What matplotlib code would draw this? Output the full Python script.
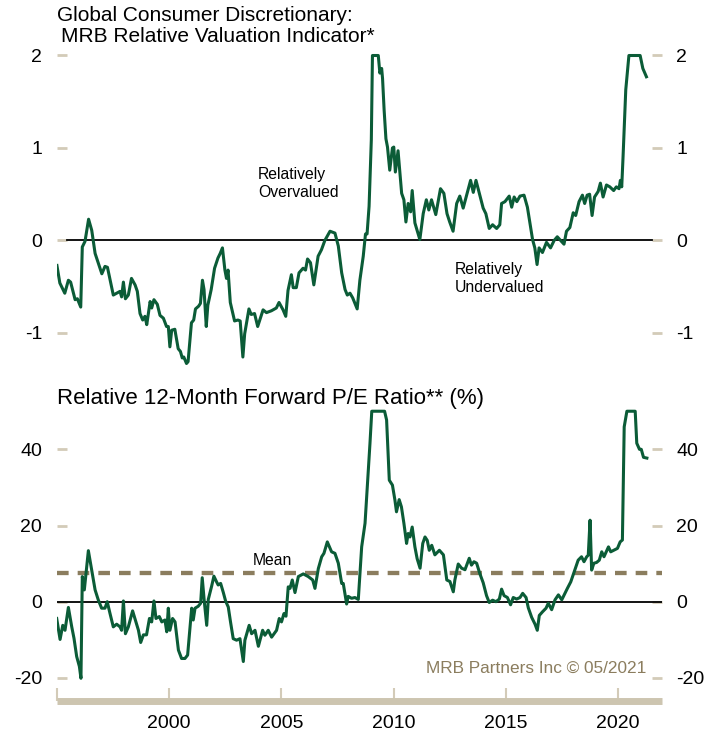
import matplotlib
matplotlib.use("Agg")
import matplotlib.pyplot as plt

plt.rcParams['font.family'] = ['Liberation Sans', 'DejaVu Sans']
plt.rcParams['axes.unicode_minus'] = False

# ---------------- data ----------------
top_years = [
    1995.01, 1995.14, 1995.36, 1995.52, 1995.62, 1995.82, 1995.92, 1996.07, 1996.14, 1996.26,
    1996.42, 1996.56, 1996.71, 1996.86, 1997.01, 1997.15, 1997.26, 1997.38, 1997.52, 1997.67,
    1997.82, 1997.89, 1997.97, 1998.06, 1998.19, 1998.33, 1998.49, 1998.59, 1998.71, 1998.83,
    1998.93, 1999.01, 1999.16, 1999.23, 1999.33, 1999.48, 1999.60, 1999.75, 1999.89, 1999.97,
    2000.04, 2000.12, 2000.26, 2000.41, 2000.51, 2000.59, 2000.66, 2000.78, 2000.85, 2000.92,
    2001.00, 2001.10, 2001.18, 2001.32, 2001.40, 2001.49, 2001.56, 2001.66, 2001.73, 2001.88,
    2002.03, 2002.18, 2002.28, 2002.38, 2002.49, 2002.56, 2002.63, 2002.73, 2002.92, 2003.07,
    2003.17, 2003.29, 2003.37, 2003.56, 2003.66, 2003.81, 2003.95, 2004.19, 2004.34, 2004.56,
    2004.78, 2004.90, 2005.08, 2005.20, 2005.30, 2005.45, 2005.53, 2005.67, 2005.79, 2005.97,
    2006.08, 2006.17, 2006.30, 2006.45, 2006.64, 2006.79, 2006.94, 2007.17, 2007.39, 2007.54,
    2007.69, 2007.84, 2007.94, 2008.06, 2008.18, 2008.38, 2008.50, 2008.65, 2008.75, 2008.82,
    2008.91, 2009.01, 2009.06, 2009.32, 2009.39, 2009.47, 2009.51, 2009.58, 2009.66, 2009.73,
    2009.83, 2009.95, 2010.01, 2010.08, 2010.20, 2010.36, 2010.46, 2010.55, 2010.65, 2010.76,
    2010.83, 2010.95, 2011.17, 2011.32, 2011.46, 2011.57, 2011.69, 2011.88, 2012.09, 2012.24,
    2012.38, 2012.50, 2012.65, 2012.81, 2012.95, 2013.10, 2013.32, 2013.43, 2013.55, 2013.67,
    2013.84, 2013.99, 2014.11, 2014.26, 2014.41, 2014.59, 2014.73, 2014.81, 2014.96, 2015.15,
    2015.26, 2015.37, 2015.49, 2015.63, 2015.81, 2015.96, 2016.07, 2016.19, 2016.29, 2016.39,
    2016.48, 2016.63, 2016.81, 2016.99, 2017.15, 2017.29, 2017.44, 2017.59, 2017.70, 2017.85,
    2018.00, 2018.11, 2018.26, 2018.41, 2018.51, 2018.62, 2018.73, 2018.84, 2018.95, 2019.11,
    2019.21, 2019.33, 2019.48, 2019.63, 2019.80, 2019.92, 2020.04, 2020.10, 2020.16, 2020.22,
    2020.34, 2020.48, 2020.98, 2021.10, 2021.26,
]
top_values = [
    -0.27, -0.46, -0.57, -0.43, -0.45, -0.64, -0.63, -0.72, -0.07, -0.01,
    0.23, 0.11, -0.14, -0.25, -0.36, -0.28, -0.29, -0.43, -0.59, -0.57,
    -0.55, -0.61, -0.45, -0.63, -0.59, -0.41, -0.48, -0.55, -0.79, -0.86,
    -0.82, -0.91, -0.66, -0.73, -0.64, -0.69, -0.81, -0.84, -0.93, -0.93,
    -1.15, -0.97, -0.96, -1.17, -1.20, -1.27, -1.26, -1.33, -1.31, -1.11,
    -0.89, -0.86, -0.74, -0.71, -0.68, -0.43, -0.53, -0.93, -0.70, -0.53,
    -0.30, -0.19, -0.14, -0.08, -0.32, -0.41, -0.32, -0.67, -0.87, -0.86,
    -0.87, -1.26, -1.01, -0.74, -0.80, -0.79, -0.93, -0.75, -0.78, -0.76,
    -0.73, -0.67, -0.75, -0.82, -0.54, -0.37, -0.51, -0.51, -0.35, -0.30,
    -0.32, -0.20, -0.24, -0.48, -0.17, -0.10, 0.00, 0.10, 0.08, -0.06,
    -0.35, -0.53, -0.59, -0.57, -0.62, -0.74, -0.43, -0.17, 0.07, 0.07,
    0.37, 1.09, 2.00, 2.00, 1.81, 1.86, 1.75, 1.41, 1.10, 1.01,
    0.76, 1.00, 1.01, 0.74, 0.97, 0.51, 0.44, 0.20, 0.40, 0.31,
    0.54, 0.19, 0.01, 0.29, 0.44, 0.33, 0.44, 0.28, 0.56, 0.51,
    0.29, 0.20, 0.10, 0.40, 0.48, 0.35, 0.55, 0.65, 0.52, 0.65,
    0.49, 0.35, 0.29, 0.13, 0.17, 0.13, 0.17, 0.40, 0.42, 0.48,
    0.36, 0.47, 0.42, 0.48, 0.49, 0.36, 0.19, 0.01, -0.08, -0.26,
    -0.08, -0.13, -0.02, -0.08, 0.00, 0.04, 0.00, -0.04, 0.10, 0.14,
    0.30, 0.27, 0.42, 0.49, 0.40, 0.49, 0.50, 0.27, 0.47, 0.53,
    0.62, 0.47, 0.60, 0.58, 0.54, 0.58, 0.56, 0.65, 0.58, 0.91,
    1.63, 2.00, 2.00, 1.86, 1.77,
]

pe_years = [
    1995.00, 1995.15, 1995.27, 1995.37, 1995.52, 1995.67, 1995.77, 1995.89, 1996.01, 1996.08,
    1996.14, 1996.23, 1996.41, 1996.56, 1996.71, 1996.85, 1997.00, 1997.15, 1997.25, 1997.37,
    1997.52, 1997.67, 1997.82, 1997.89, 1997.97, 1998.06, 1998.19, 1998.38, 1998.53, 1998.64,
    1998.74, 1998.86, 1999.00, 1999.13, 1999.23, 1999.33, 1999.42, 1999.57, 1999.68, 1999.82,
    1999.90, 1999.97, 2000.04, 2000.16, 2000.27, 2000.42, 2000.56, 2000.71, 2000.83, 2000.94,
    2001.01, 2001.08, 2001.16, 2001.30, 2001.41, 2001.48, 2001.57, 2001.68, 2001.75, 2001.90,
    2002.00, 2002.12, 2002.19, 2002.30, 2002.42, 2002.52, 2002.64, 2002.74, 2002.86, 2003.01,
    2003.16, 2003.31, 2003.38, 2003.57, 2003.68, 2003.83, 2003.98, 2004.17, 2004.27, 2004.42,
    2004.57, 2004.79, 2004.91, 2005.01, 2005.12, 2005.21, 2005.31, 2005.39, 2005.49, 2005.61,
    2005.76, 2005.98, 2006.20, 2006.40, 2006.50, 2006.65, 2006.80, 2006.90, 2007.05, 2007.24,
    2007.39, 2007.54, 2007.69, 2007.76, 2007.91, 2007.98, 2008.13, 2008.28, 2008.43, 2008.58,
    2008.73, 2008.95, 2009.03, 2009.60, 2009.69, 2009.81, 2009.95, 2010.06, 2010.13, 2010.25,
    2010.35, 2010.46, 2010.58, 2010.65, 2010.73, 2010.83, 2010.95, 2011.05, 2011.18, 2011.30,
    2011.40, 2011.50, 2011.59, 2011.70, 2011.84, 2012.04, 2012.22, 2012.37, 2012.51, 2012.66,
    2012.73, 2012.88, 2013.03, 2013.18, 2013.37, 2013.47, 2013.58, 2013.70, 2013.84, 2013.99,
    2014.14, 2014.26, 2014.41, 2014.56, 2014.71, 2014.81, 2014.92, 2015.07, 2015.21, 2015.33,
    2015.48, 2015.63, 2015.75, 2015.90, 2016.00, 2016.15, 2016.30, 2016.40, 2016.49, 2016.64,
    2016.79, 2016.89, 2017.04, 2017.19, 2017.34, 2017.49, 2017.63, 2017.74, 2017.89, 2018.04,
    2018.22, 2018.37, 2018.48, 2018.60, 2018.67, 2018.75, 2018.82, 2018.92, 2019.04, 2019.16,
    2019.27, 2019.37, 2019.57, 2019.67, 2019.87, 2019.97, 2020.09, 2020.19, 2020.27, 2020.39,
    2020.76, 2020.83, 2020.95, 2021.03, 2021.13, 2021.28,
]
pe_values = [
    -4.4, -9.9, -6.2, -7.5, -1.5, -6.6, -9.6, -14.4, -17.0, -20.1,
    6.6, 3.1, 13.4, 8.3, 3.1, 0.5, -1.7, -1.7, 0.0, -3.0,
    -6.6, -5.9, -6.6, -7.5, 0.2, -8.4, -6.6, -2.4, -5.3, -7.5,
    -10.7, -8.7, -8.7, -4.4, -5.3, 0.2, -4.4, -3.9, -5.3, -4.8,
    -7.9, -1.7, -7.5, -4.4, -5.3, -12.7, -14.9, -14.9, -14.0, -6.6,
    -1.7, -4.8, -1.7, -1.2, -0.4, 6.3, 0.2, -6.2, 0.6, 4.1,
    6.7, 5.2, 4.4, 4.8, 2.4, 0.2, -1.4, -5.3, -9.7, -10.1,
    -9.7, -15.7, -10.1, -6.2, -8.4, -7.5, -11.7, -7.5, -8.8, -7.5,
    -9.3, -7.5, -4.4, -5.3, -3.1, -3.8, 3.9, 3.5, 5.7, 2.4,
    6.6, 7.3, 6.6, 5.7, 3.5, 8.7, 11.8, 12.7, 15.7, 13.1,
    12.7, 10.1, 4.8, 4.8, -0.6, 1.4, 0.9, 1.1, 0.6, 14.4,
    20.6, 41.6, 50.0, 50.0, 47.7, 31.9, 30.6, 26.7, 23.6, 26.8,
    24.9, 20.6, 15.3, 17.9, 17.0, 19.6, 14.4, 11.3, 8.8, 15.3,
    17.0, 16.1, 13.5, 14.8, 12.3, 13.5, 12.3, 5.7, 5.3, 2.6,
    5.7, 9.9, 8.8, 8.4, 11.4, 9.6, 10.5, 10.1, 7.4, 5.0,
    1.6, -0.2, 0.4, 0.0, 0.7, 3.3, 1.6, 1.1, -0.8, 1.1,
    0.7, 1.1, 2.2, 1.1, -1.6, -4.1, -5.9, -7.5, -3.6, -2.6,
    -1.7, -0.4, -2.1, 0.5, 1.8, 0.5, 2.2, 3.5, 5.2, 7.8,
    10.9, 11.8, 10.5, 11.8, 12.2, 21.4, 8.3, 10.1, 10.3, 10.9,
    13.1, 11.8, 14.4, 13.1, 13.7, 14.0, 15.7, 16.2, 45.9, 50.0,
    50.0, 41.6, 40.0, 40.0, 37.9, 37.7,
]
pe_mean = 7.5

top_ticks = [-1, 0, 1, 2]
pe_ticks = [-20, 0, 20, 40]
year_ticks = [1995, 2000, 2005, 2010, 2015, 2020]
year_labels = ['', '2000', '2005', '2010', '2015', '2020']

# ---------------- style ----------------
GREEN = '#0b5c37'
BEIGE = '#d3cbb8'
BAR = '#cdc5b0'
OLIVE = '#8b7d5e'
W, H = 720, 738
X0, X1 = 1995.0, 2021.94

fig = plt.figure(figsize=(W / 100, H / 100), dpi=100)

def px_axes(left, top, right, bottom):
    return fig.add_axes([left / W, 1 - bottom / H, (right - left) / W, (bottom - top) / H])

# ---- top panel
ax1 = px_axes(56.7, 48.1, 661.7, 374.6)
ax1.plot(top_years, top_values, color=GREEN, lw=2.2, solid_joinstyle='round', zorder=3)
ax1.axhline(0, xmin=10 / 605, xmax=595 / 605, color='black', lw=1.3, zorder=2)
ax1.set_xlim(X0, X1)
ax1.set_ylim(-1.45, 2.08)
ax1.set_yticks(top_ticks)
ax1.set_yticklabels([str(t) for t in top_ticks])
ax1.set_xticks([])
for s in ax1.spines.values():
    s.set_visible(False)
ax1.tick_params(axis='y', left=True, right=True, labelleft=True, labelright=True,
                direction='in', length=7.2, width=2, color=BEIGE, pad=10.5, labelsize=14)
ax1.text(2003.96, 0.79, 'Relatively\nOvervalued', fontsize=11.3, ha='left', va='top',
         linespacing=1.25)
ax1.text(2012.73, -0.235, 'Relatively\nUndervalued', fontsize=11.3, ha='left', va='top',
         linespacing=1.25)

# ---- bottom panel
ax2 = px_axes(56.7, 401.7, 661.7, 701.0)
ax2.plot(pe_years, pe_values, color=GREEN, lw=2.2, solid_joinstyle='round', zorder=3)
ax2.axhline(0, color='black', lw=1.3, zorder=2)
ax2.axhline(pe_mean, color=OLIVE, lw=3.1, dashes=(2.7, 2.1), dash_capstyle='butt', zorder=2)
ax2.set_xlim(X0, X1)
ax2.set_ylim(-26.06, 52.5)
ax2.set_yticks(pe_ticks)
ax2.set_yticklabels([str(t) for t in pe_ticks])
ax2.set_xticks(year_ticks)
ax2.set_xticklabels(year_labels)
for k in ['top', 'left', 'right']:
    ax2.spines[k].set_visible(False)
ax2.spines['bottom'].set_color(BAR)
ax2.spines['bottom'].set_linewidth(5)
ax2.spines['bottom'].set_capstyle('butt')
ax2.tick_params(axis='y', left=True, right=True, labelleft=True, labelright=True,
                direction='in', length=7.2, width=2, color=BEIGE, pad=10.5, labelsize=14)
ax2.tick_params(axis='x', direction='in', length=9.4, width=1.5, color=BEIGE, pad=10,
                labelsize=14)
ax2.text(2003.73, pe_mean + 1.3, 'Mean', fontsize=11.3, ha='left', va='bottom')
ax2.text(2021.25, -17.5, 'MRB Partners Inc \u00a9 05/2021', fontsize=12.4, color=OLIVE,
         ha='right', va='center')

# ---- titles
fig.text(57 / W, 1 - 21 / H, 'Global Consumer Discretionary:', fontsize=15,
         ha='left', va='baseline')
fig.text(61 / W, 1 - 41.5 / H, 'MRB Relative Valuation Indicator*', fontsize=15,
         ha='left', va='baseline')
fig.text(56.7 / W, 1 - 404 / H, 'Relative 12-Month Forward P/E Ratio** (%)', fontsize=16,
         ha='left', va='baseline')

fig.savefig('out.png', dpi=100)
